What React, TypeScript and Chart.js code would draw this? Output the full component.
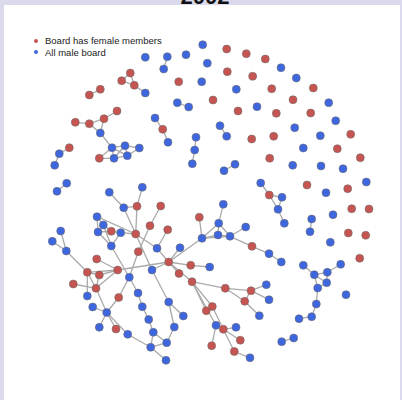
import React, { useEffect, useRef } from "react";
import { Chart, registerables } from "chart.js";
Chart.register(...registerables);

const chartTitle = "2002";
const legendLabels = ["Board has female members", "All male board"];

// Layout positions of companies (network layout units)
const femaleBoards: [string, number, number][] = [
  ["n5", 130.3, 73], ["n6", 121.7, 80.7], ["n7", 134.3, 85.3], ["n9", 100.3, 89.3], ["n10", 89.3, 95],
  ["n11", 178.7, 81.7], ["n14", 117, 111], ["n15", 104, 118.7], ["n16", 89.3, 123.7], ["n17", 75.3, 122.3],
  ["n24", 99.3, 158.3], ["n26", 162.7, 129.3], ["n28", 69.3, 147.7],
  ["n35", 226.7, 49], ["n36", 246.3, 53.7], ["n37", 265.3, 59], ["n41", 227.3, 71.7], ["n42", 252.7, 76.3],
  ["n45", 271.7, 88.7], ["n46", 313.3, 88], ["n47", 213, 100], ["n48", 293, 99.7], ["n50", 238, 111],
  ["n52", 276.3, 113.3], ["n53", 310.7, 113], ["n58", 350.7, 134.3], ["n59", 251.7, 139], ["n60", 273.7, 136.3],
  ["n63", 337.3, 148.7], ["n64", 360.3, 157.7], ["n65", 269.7, 158.3],
  ["n72", 269.3, 195], ["n76", 307, 185], ["n77", 347.7, 188.7], ["n80", 351.7, 208.7], ["n81", 369, 209],
  ["n85", 348.3, 233], ["n86", 365.7, 235.3], ["n88", 359.7, 258.3],
  ["c7", 199.3, 217.3], ["c8", 252, 246.3], ["H", 168.7, 262], ["h3", 190.7, 265.3], ["h5", 179, 273.5],
  ["h6", 192, 281.7], ["hR", 117.7, 270], ["d1", 225.3, 288.3], ["d2", 251, 290.7], ["d5", 244.7, 301.3],
  ["e1", 206.3, 310.7], ["e2", 212.3, 306.5], ["e4", 223.3, 329.3], ["e6", 240.3, 340.2], ["e7", 211.7, 345.7],
  ["e8", 234.3, 351.5], ["l4", 137, 206.3], ["l7", 160.7, 206], ["l8", 150, 225.7], ["l9", 138.3, 251.7],
  ["l10", 167.7, 229.7], ["k4", 111.3, 231.3], ["k7", 135.7, 234], ["r1", 87.3, 272.3], ["r2", 96.7, 259],
  ["r3", 99.3, 275], ["r4", 73.3, 284], ["r5", 96, 288.3], ["r6", 118.7, 297.5], ["r7", 116, 329],
];

const maleBoards: [string, number, number][] = [
  ["n1", 145.3, 57.3], ["n2", 167.3, 56.7], ["n3", 163.7, 69], ["n4", 186, 54.7], ["n8", 145.3, 93],
  ["n12", 177.3, 102.7], ["n13", 188.7, 107], ["n18", 100.3, 133], ["n19", 112, 147.7], ["n20", 125, 145.7],
  ["n21", 139.3, 148], ["n22", 114, 158.3], ["n23", 127.3, 155.7], ["n25", 155, 118], ["n27", 168, 142.3],
  ["n29", 59.3, 153.7], ["n30", 54.7, 165.3], ["n31", 196, 137.3], ["n32", 194.7, 150], ["n33", 192.3, 163.7],
  ["n34", 202.7, 44.7], ["n38", 281, 67.7], ["n39", 296.3, 78], ["n40", 207.3, 63.3], ["n43", 201.7, 81.7],
  ["n44", 236.3, 89.3], ["n49", 328.7, 102.7], ["n51", 257, 106.7], ["n54", 335.7, 120.7], ["n55", 220, 125.7],
  ["n56", 226.7, 136.3], ["n57", 294.7, 127.7], ["n61", 320.3, 135.7], ["n62", 303.3, 148], ["n66", 235, 164.3],
  ["n67", 224, 170.7], ["n68", 292.7, 165.3], ["n69", 321, 166], ["n70", 343, 168.7],
  ["n71", 260.7, 183], ["n73", 282, 197.3], ["n74", 278, 209.3], ["n75", 284.3, 223.3], ["n78", 366.3, 182],
  ["n79", 326, 192.7], ["n82", 333, 214.7], ["n83", 311.7, 219], ["n84", 310, 231.7], ["n87", 330.3, 242.3],
  ["n89", 340.7, 264.3], ["n90", 303.3, 265.3], ["n91", 314.3, 274.7], ["n92", 327.3, 272.3], ["n93", 326.7, 282.7],
  ["n94", 317.7, 288], ["n95", 316.3, 304], ["n96", 311.7, 316.7], ["n97", 299, 318.7], ["n98", 346, 294.7],
  ["n99", 293.7, 338], ["n100", 281.7, 341.7],
  ["c1", 223.3, 204.3], ["c2", 218.7, 223.3], ["c3", 218, 235], ["c4", 230, 236.3], ["c5", 245.7, 227],
  ["c6", 202, 238.3], ["c9", 269, 253.7], ["c10", 281.3, 262],
  ["h1", 157, 248.3], ["h2", 180, 247.7], ["h4", 209.7, 267], ["h7", 152, 270],
  ["d3", 266.3, 284.7], ["d4", 269, 299.7], ["d6", 259.3, 315.7], ["e3", 216, 325.3], ["e5", 236, 327.3],
  ["e9", 250, 357.8],
  ["l1", 66.7, 183.3], ["l2", 57, 191.3], ["l3", 142.3, 187.3], ["l5", 109.3, 192.3], ["l6", 123.7, 207.7],
  ["l11", 60.7, 231], ["l12", 52.3, 241.3], ["l13", 66.3, 251],
  ["k1", 97, 216.7], ["k2", 103.3, 225], ["k3", 98, 232], ["k5", 120.7, 232.7], ["k6", 111.3, 246],
  ["m1", 129.3, 277.3], ["b1", 87.3, 296], ["b2", 92.7, 307], ["b3", 106.7, 312.5], ["b4", 99.3, 327.3],
  ["b5", 127.7, 334.3], ["f1", 138, 293], ["f2", 142.3, 306.7], ["f3", 148.7, 319.5], ["f4", 153.3, 332.3],
  ["f5", 150.7, 347.3], ["f6", 166.7, 342.7], ["f7", 174.3, 327], ["f8", 168.7, 302], ["f9", 183.3, 316],
  ["f10", 166, 360.3],
];

// Shared board members (ties between companies)
const ties: [string, string][] = [
  ["n2", "n3"], ["n5", "n6"], ["n5", "n7"], ["n6", "n7"], ["n7", "n8"], ["n9", "n10"], ["n12", "n13"],
  ["n14", "n15"], ["n15", "n16"], ["n16", "n17"], ["n16", "n18"], ["n15", "n18"], ["n18", "n19"],
  ["n19", "n20"], ["n20", "n21"], ["n19", "n22"], ["n19", "n23"], ["n20", "n23"], ["n21", "n23"],
  ["n22", "n23"], ["n20", "n22"], ["n24", "n22"], ["n24", "n19"], ["n25", "n26"], ["n26", "n27"],
  ["n28", "n29"], ["n29", "n30"], ["n31", "n32"], ["n32", "n33"], ["n55", "n56"], ["n66", "n67"],
  ["n71", "n72"], ["n72", "n73"], ["n72", "n74"], ["n73", "n74"], ["n74", "n75"], ["n83", "n84"],
  ["n90", "n91"], ["n91", "n92"], ["n92", "n89"], ["n91", "n93"], ["n92", "n93"], ["n93", "n94"],
  ["n91", "n94"], ["n94", "n95"], ["n95", "n96"], ["n96", "n97"], ["n99", "n100"],
  ["c1", "c2"], ["c2", "c3"], ["c2", "c4"], ["c3", "c4"], ["c6", "c2"], ["c6", "c3"], ["c6", "c4"],
  ["c4", "c5"], ["c4", "c8"], ["c8", "c9"], ["c9", "c10"], ["c7", "c6"], ["H", "c6"],
  ["H", "h1"], ["H", "h2"], ["H", "h3"], ["h3", "h4"], ["H", "h5"], ["H", "h6"], ["H", "h7"], ["H", "hR"],
  ["h6", "d1"], ["d1", "d2"], ["d2", "d3"], ["d2", "d4"], ["d1", "d5"], ["d2", "d5"], ["d5", "d6"],
  ["h6", "e1"], ["h6", "e2"], ["h6", "e3"], ["e2", "e4"], ["e3", "e4"], ["e3", "e7"], ["e4", "e5"],
  ["e4", "e6"], ["e4", "e8"], ["e8", "e9"],
  ["l1", "l2"], ["l3", "l4"], ["l5", "l6"], ["l6", "l4"], ["l7", "l8"], ["l8", "l9"], ["l9", "m1"],
  ["l10", "h1"], ["l6", "k7"], ["l4", "k7"],
  ["k1", "k2"], ["k1", "k3"], ["k3", "k4"], ["k2", "k4"], ["k4", "k5"], ["k2", "k6"], ["k3", "k6"],
  ["k5", "k6"], ["k1", "k7"], ["k5", "k7"], ["k7", "h1"], ["k7", "h7"], ["k6", "m1"],
  ["l11", "l13"], ["l12", "l13"], ["l13", "r1"], ["r2", "hR"], ["r1", "hR"], ["r1", "r3"], ["r3", "hR"],
  ["r4", "r5"], ["r1", "r5"], ["r3", "r5"], ["hR", "r5"], ["r1", "b1"], ["r5", "b3"], ["b2", "b3"],
  ["b4", "b3"], ["r6", "b3"], ["r6", "m1"], ["r7", "b3"], ["b3", "b5"], ["b5", "f5"],
  ["m1", "f1"], ["f1", "f2"], ["f2", "f3"], ["f3", "f4"], ["f4", "f5"], ["f5", "f6"], ["f4", "f6"],
  ["f6", "f7"], ["f7", "f8"], ["f8", "h7"], ["f8", "f9"], ["f5", "f10"],
];

const FEMALE_COLOR = "rgb(198,84,80)";
const MALE_COLOR = "rgb(62,102,222)";
const EDGE_COLOR = "rgb(170,170,170)";

export default function App() {
  const canvasRef = useRef<HTMLCanvasElement | null>(null);

  useEffect(() => {
    if (!canvasRef.current) return;
    const pos: Record<string, [number, number]> = {};
    for (const [id, x, y] of [...femaleBoards, ...maleBoards]) pos[id] = [x, y];

    const edgePlugin = {
      id: "networkTies",
      beforeDatasetsDraw(chart: any) {
        const { ctx, scales } = chart;
        const sx = scales.x, sy = scales.y;
        ctx.save();
        ctx.strokeStyle = EDGE_COLOR;
        ctx.lineWidth = 1.3;
        ctx.lineCap = "round";
        for (const [a, b] of ties) {
          const p = pos[a], q = pos[b];
          if (!p || !q) continue;
          ctx.beginPath();
          ctx.moveTo(sx.getPixelForValue(p[0]), sy.getPixelForValue(p[1]));
          ctx.lineTo(sx.getPixelForValue(q[0]), sy.getPixelForValue(q[1]));
          ctx.stroke();
        }
        ctx.restore();
      },
    };

    const nodeStyle = { pointRadius: 4, pointBorderWidth: 0.8, pointBorderColor: "rgba(110,110,110,0.7)" };
    const chart = new Chart(canvasRef.current, {
      type: "scatter",
      data: {
        datasets: [
          {
            label: legendLabels[0],
            data: femaleBoards.map(([, x, y]) => ({ x, y })),
            backgroundColor: FEMALE_COLOR,
            ...nodeStyle,
          } as any,
          {
            label: legendLabels[1],
            data: maleBoards.map(([, x, y]) => ({ x, y })),
            backgroundColor: MALE_COLOR,
            ...nodeStyle,
          } as any,
        ],
      },
      options: {
        animation: false,
        responsive: false,
        devicePixelRatio: 1,
        layout: { padding: 0, autoPadding: false },
        plugins: { legend: { display: false }, tooltip: { enabled: false }, title: { display: false } },
        scales: {
          x: { type: "linear", min: 0, max: 402, display: false },
          y: { type: "linear", min: 0, max: 400, reverse: true, display: false },
        },
      } as any,
      plugins: [edgePlugin],
    });
    return () => chart.destroy();
  }, []);

  const font = '"Liberation Sans", Arial, Helvetica, sans-serif';
  return (
    <div style={{ position: "fixed", left: 0, top: 0, width: 402, height: 400, overflow: "hidden", background: "rgb(218,218,236)" }}>
      <div style={{ position: "absolute", left: 0, width: 410, top: -14, textAlign: "center", fontFamily: font, fontWeight: "bold", fontSize: 22, lineHeight: "22px", color: "#111" }}>
        {chartTitle}
      </div>
      <div style={{ position: "absolute", left: 4, top: 5, width: 396, height: 395, background: "#fff" }} />
      {legendLabels.map((label, i) => (
        <div key={label} style={{ position: "absolute", left: 34, top: i === 0 ? 35 : 46.5, height: 11, display: "flex", alignItems: "center", fontFamily: font, fontSize: 9.5, color: "#222", whiteSpace: "nowrap" }}>
          <span style={{ display: "inline-block", width: 4, height: 4, borderRadius: 2, background: i === 0 ? FEMALE_COLOR : MALE_COLOR, marginRight: 7 }} />
          {label}
        </div>
      ))}
      <canvas ref={canvasRef} width={402} height={400} style={{ position: "absolute", left: 0, top: 0, width: 402, height: 400 }} />
    </div>
  );
}
